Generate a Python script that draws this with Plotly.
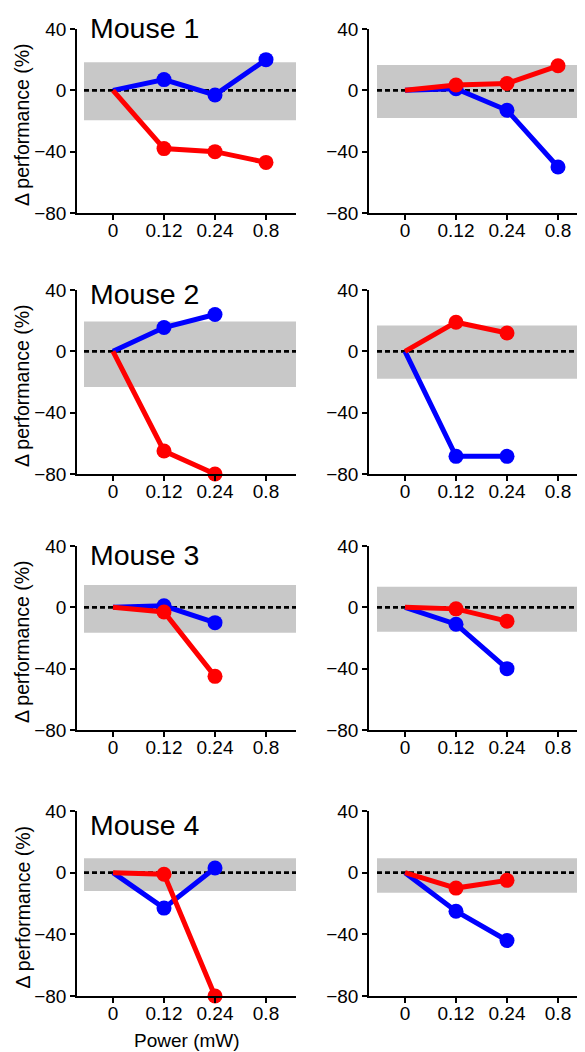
import plotly.graph_objects as go

# The page body has an 8px margin, so the figure is drawn 8px smaller and
# all pixel positions below are given in window pixels, shifted by OFF.
OFF = 8
WIN_W, WIN_H = 585, 1052
W, H = WIN_W - OFF, WIN_H - OFF

power_labels = ["0", "0.12", "0.24", "0.8"]
y_ticks = [-80, -40, 0, 40]

mice = ["Mouse 1", "Mouse 2", "Mouse 3", "Mouse 4"]

# Left column panels
blue_left = [
    [0, 7, -3, 20],
    [0, 15.5, 24, None],
    [0, 1, -10, None],
    [0, -23, 3, None],
]
red_left = [
    [0, -38, -40, -47],
    [0, -65, -80, None],
    [0, -3, -45, None],
    [0, -1, -80, None],
]
band_left = [(-19.5, 18.3), (-23.3, 19.5), (-16.6, 14.6), (-11.9, 9.3)]

# Right column panels
blue_right = [
    [0, 1, -13, -50],
    [0, -68.5, -68.5, None],
    [0, -11, -40, None],
    [0, -25, -44, None],
]
red_right = [
    [0, 3.5, 4.5, 16],
    [0, 19, 12, None],
    [0, -1, -9, None],
    [0, -10, -5, None],
]
band_right = [(-18, 16.5), (-17.9, 16.8), (-16, 13.5), (-13, 9.3)]

BLUE = "#0000ff"
RED = "#ff0000"
FONT = "Liberation Sans, Arial, sans-serif"


def px_x(p):
    return (p - OFF) / W


def px_y(p):
    return 1 - (p - OFF) / H


# panel geometry (window pixels)
col_geom = [  # (axis left px, axis right px, band start px)
    (77, 296, 84),
    (369, 588, 377),
]
row_geom = [(29, 213), (290, 474), (546, 730), (811, 996)]  # (y of 40, y of -80)
title_mid = [27, 292.5, 553.5, 823.5]
cat_step = 51.0
zero_offset = 36.0

fig = go.Figure()
layout = dict(
    width=W, height=H, margin=dict(l=0, r=0, t=0, b=0, autoexpand=False),
    paper_bgcolor="white", plot_bgcolor="white", showlegend=False,
    font=dict(family=FONT, size=19, color="black"),
)
shapes = []
annotations = []

idx = 0
for r in range(4):
    for c in range(2):
        idx += 1
        xa = "xaxis" if idx == 1 else f"xaxis{idx}"
        ya = "yaxis" if idx == 1 else f"yaxis{idx}"
        xr = "x" if idx == 1 else f"x{idx}"
        yr = "y" if idx == 1 else f"y{idx}"
        xl, xrp, bstart = col_geom[c]
        xrp_vis = min(xrp, WIN_W)
        yt, yb = row_geom[r]
        rng = [-zero_offset / cat_step, (xrp_vis - xl - zero_offset) / cat_step]
        layout[xa] = dict(
            domain=[px_x(xl), min(1.0, px_x(xrp_vis))], anchor=yr, type="category",
            categoryorder="array", categoryarray=power_labels,
            range=rng, showline=True, linecolor="black", linewidth=1.5,
            ticks="outside", ticklen=5, tickwidth=1.5, tickcolor="black",
            showgrid=False, zeroline=False, ticklabelstandoff=-6, automargin=False,
            tickfont=dict(size=19, family=FONT, color="black"), fixedrange=True,
        )
        layout[ya] = dict(
            domain=[px_y(yb), px_y(yt)], anchor=xr, range=[-80, 40],
            tickvals=y_ticks, showline=True, linecolor="black", linewidth=1.5,
            ticks="outside", ticklen=5, tickwidth=1.5, tickcolor="black",
            showgrid=False, zeroline=False, automargin=False,
            tickfont=dict(size=19, family=FONT, color="black"), fixedrange=True,
        )
        band = band_left[r] if c == 0 else band_right[r]
        bx0 = (bstart - xl) / (xrp_vis - xl)
        shapes.append(dict(
            type="rect", xref=f"{xr} domain", yref=yr, x0=bx0, x1=1,
            y0=band[0], y1=band[1], fillcolor="#c8c8c8", line=dict(width=0),
            layer="below",
        ))
        shapes.append(dict(
            type="line", xref=f"{xr} domain", yref=yr, x0=bx0, x1=1,
            y0=0, y1=0, line=dict(color="black", width=2.8, dash="5px,3px"),
            layer="below",
        ))
        blue = blue_left[r] if c == 0 else blue_right[r]
        red = red_left[r] if c == 0 else red_right[r]
        for vals, col in ((blue, BLUE), (red, RED)):
            xs = [power_labels[i] for i, v in enumerate(vals) if v is not None]
            ys = [v for v in vals if v is not None]
            fig.add_trace(go.Scatter(
                x=xs, y=ys, xaxis=xr, yaxis=yr, mode="lines+markers",
                line=dict(color=col, width=5),
                marker=dict(color=col, size=[0] + [15] * (len(ys) - 1),
                            opacity=1, line=dict(width=0)),
                cliponaxis=False, hoverinfo="skip",
            ))
        if c == 0:
            annotations.append(dict(
                text=mice[r], xref="paper", yref="paper",
                x=px_x(88), y=px_y(title_mid[r] + 1),
                xanchor="left", yanchor="middle", showarrow=False,
                font=dict(size=28.5, family=FONT, color="black"),
            ))
            annotations.append(dict(
                text="Δ performance (%)", xref="paper", yref="paper",
                x=px_x(22), y=px_y((yt + yb) / 2 + 4), textangle=-90,
                xanchor="center", yanchor="middle", showarrow=False,
                font=dict(size=19.5, family=FONT, color="black"),
            ))

annotations.append(dict(
    text="Power (mW)", xref="paper", yref="paper",
    x=px_x((77 + 296) / 2), y=px_y(1040), xanchor="center", yanchor="middle",
    showarrow=False, font=dict(size=19, family=FONT, color="black"),
))

layout["shapes"] = shapes
layout["annotations"] = annotations
fig.update_layout(**layout)
fig.write_html("out.html")
